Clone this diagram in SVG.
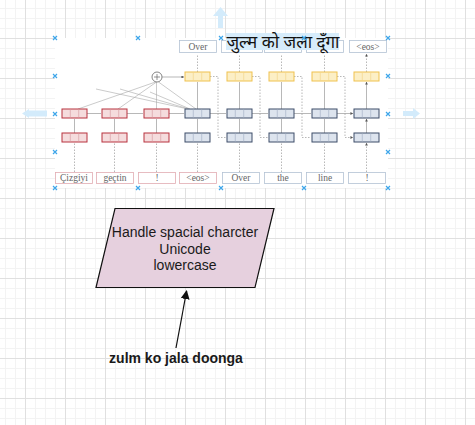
<svg xmlns="http://www.w3.org/2000/svg" xmlns:xlink="http://www.w3.org/1999/xlink" width="475" height="425" viewBox="0 0 475 425">
<style>
.minor{stroke:#f3f3f3;stroke-width:1}
.major{stroke:#e0e0e0;stroke-width:1}
.xm{stroke:#3ea6ea;stroke-width:1.2}
.hov{fill:#d3ebfb}
.ib{fill:#fff;stroke-width:0.8}
.enc{stroke:#e2acb2}
.dec{stroke:#b3c2d4}
.lbl{font-family:"Liberation Serif",serif;font-size:9.5px;fill:#666;text-anchor:middle}
.ln{stroke:#9a9a9a;stroke-width:0.7;fill:none}
.dot{stroke:#9a9a9a;stroke-width:0.7;fill:none;stroke-dasharray:1.5 1.5}
.arr{marker-end:url(#ah)}
.att{stroke:#a8a8a8;stroke-width:0.6;fill:none}
.cap{font-family:"Liberation Sans",Arial,sans-serif;font-size:14px;fill:#1a1a1a;text-anchor:middle}
</style>
<defs>
<pattern id="grid" x="25" y="38" width="40" height="40" patternUnits="userSpaceOnUse">
<path class="minor" d="M10.5 0V40M20.5 0V40M30.5 0V40M0 10.5H40M0 20.5H40M0 30.5H40"/>
<path class="major" d="M0.5 0V40M0 0.5H40"/>
</pattern>
<marker id="ah" viewBox="0 0 6 6" refX="5.5" refY="3" markerWidth="4" markerHeight="4" orient="auto">
<path d="M0 0L6 3L0 6z" fill="#555"/>
</marker>
<marker id="bk" viewBox="0 0 10 10" refX="9" refY="5" markerWidth="9" markerHeight="9" markerUnits="userSpaceOnUse" orient="auto">
<path d="M0 0L10 5L0 10z" fill="#111"/>
</marker>
<g id="cR"><rect x="0" y="0" width="25" height="9" fill="#f5dcdd" stroke="#b8323e" stroke-width="1"/><path d="M8.3 0.5V8.5M16.7 0.5V8.5" stroke="#d9a0a6" stroke-width="0.7"/></g>
<g id="cB"><rect x="0" y="0" width="25" height="9" fill="#dde4ee" stroke="#3d4c68" stroke-width="1"/><path d="M8.3 0.5V8.5M16.7 0.5V8.5" stroke="#a9b5c8" stroke-width="0.7"/></g>
<g id="cY"><rect x="0" y="0" width="25" height="9" fill="#fcefc6" stroke="#f0c24e" stroke-width="1"/><path d="M8.3 0.5V8.5M16.7 0.5V8.5" stroke="#f2d58c" stroke-width="0.7"/></g>
</defs>
<rect width="475" height="425" fill="#ffffff"/>
<rect width="475" height="425" fill="url(#grid)"/>
<g id="hover-arrows">
<path class="hov" d="M218 16H213L220.5 7L228 16H223V28H218Z"/>
<path class="hov" d="M29 109V110.5H47V116.5H29V118L22 113.5Z"/>
<path class="hov" d="M403 111H413V108L420 113.5L413 119V116H403Z"/>
</g>
<g id="image">
<rect x="55" y="38" width="333" height="150" fill="#ffffff"/>
</g>
<g id="connectors">
<path class="dot arr" d="M74.5 172V143M114.5 172V143M156.5 172V143M197.5 172V143M239.5 172V143M281.5 172V143M324.5 172V143M366.5 172V143"/>
<path class="ln arr" d="M74.5 133V119M114.5 133V119M156.5 133V119M197.5 133V119M239.5 133V119M281.5 133V119M324.5 133V119M366.5 133V119"/>
<path class="ln arr" d="M87 113.5H101M127 113.5H143M169 113.5H184M210 113.5H226M252 113.5H268M294 113.5H311M337 113.5H353"/>
<path class="dot arr" d="M210 76.5H218V137.5H226M252 76.5H260V137.5H268M294 76.5H302V137.5H311M337 76.5H345V137.5H353"/>
<path class="ln arr" d="M197.5 109V82M239.5 109V82M281.5 109V82M324.5 109V82M366.5 109V82"/>
<path class="dot arr" d="M197.5 72V54M239.5 72V54M281.5 72V54M324.5 72V54M366.5 72V54"/>
<path class="att" d="M78 109L155.5 82M118 109L156.5 82M156.5 109V82M196 109L158.5 82M188 109L96 89M189 109L120 89M190 109L150 92"/>
<path class="ln arr" d="M162 77H184"/>
<path d="M176 348L186.6 291" stroke="#111" stroke-width="1.2" fill="none" marker-end="url(#bk)"/>
</g>
<g id="attn-sum">
<circle cx="157" cy="77" r="5" fill="#fff" stroke="#666" stroke-width="0.8"/>
<path d="M154 77H160M157 74V80" stroke="#666" stroke-width="0.7"/>
</g>
<g id="enc-bottom">
<use href="#cR" x="62" y="133"/><use href="#cR" x="102" y="133"/><use href="#cR" x="144" y="133"/>
</g>
<g id="enc-top">
<use href="#cR" x="62" y="109"/><use href="#cR" x="102" y="109"/><use href="#cR" x="144" y="109"/>
</g>
<g id="dec-bottom">
<use href="#cB" x="185" y="133"/><use href="#cB" x="227" y="133"/><use href="#cB" x="269" y="133"/><use href="#cB" x="312" y="133"/><use href="#cB" x="354" y="133"/>
</g>
<g id="dec-top">
<use href="#cB" x="185" y="109"/><use href="#cB" x="227" y="109"/><use href="#cB" x="269" y="109"/><use href="#cB" x="312" y="109"/><use href="#cB" x="354" y="109"/>
</g>
<g id="dec-out">
<use href="#cY" x="185" y="72"/><use href="#cY" x="227" y="72"/><use href="#cY" x="269" y="72"/><use href="#cY" x="312" y="72"/><use href="#cY" x="354" y="72"/>
</g>
<g id="inputs">
<rect class="ib enc" x="55.5" y="172.5" width="37" height="11"/><text class="lbl" x="74" y="181">Çizgiyi</text>
<rect class="ib enc" x="96.5" y="172.5" width="37" height="11"/><text class="lbl" x="115" y="181">geçtin</text>
<rect class="ib enc" x="138.5" y="172.5" width="37" height="11"/><text class="lbl" x="157" y="181">!</text>
<rect class="ib enc" x="179.5" y="172.5" width="37" height="11"/><text class="lbl" x="198" y="181">&lt;eos&gt;</text>
<rect class="ib dec" x="222.5" y="172.5" width="37" height="11"/><text class="lbl" x="241" y="181">Over</text>
<rect class="ib dec" x="264.5" y="172.5" width="37" height="11"/><text class="lbl" x="283" y="181">the</text>
<rect class="ib dec" x="306.5" y="172.5" width="37" height="11"/><text class="lbl" x="325" y="181">line</text>
<rect class="ib dec" x="348.5" y="172.5" width="37" height="11"/><text class="lbl" x="367" y="181">!</text>
</g>
<g id="outputs">
<rect class="ib dec" x="179.5" y="40.5" width="37" height="12"/><text class="lbl" x="198" y="50">Over</text>
<rect class="ib dec" x="221.5" y="40.5" width="41" height="12"/>
<rect class="ib dec" x="264.5" y="40.5" width="37" height="12"/>
<rect class="ib dec" x="306.5" y="40.5" width="37" height="12"/>
<rect class="ib dec" x="349.5" y="40.5" width="37" height="12"/><text class="lbl" x="368" y="50">&lt;eos&gt;</text>
</g>
<g id="hindi-title">
<rect x="226" y="33" width="113" height="17" fill="#d6ecfb"/>
<text x="283" y="48" font-family="'Noto Sans','DejaVu Sans',sans-serif" font-size="17" fill="#111" text-anchor="middle">जुल्म को जला दूँगा</text>
</g>
<g id="handles">
<path class="xm" d="M53 36l4 4m0-4l-4 4M136 36l4 4m0-4l-4 4M219 36l4 4m0-4l-4 4M302 36l4 4m0-4l-4 4M386 36l4 4m0-4l-4 4M53 74l4 4m0-4l-4 4M386 74l4 4m0-4l-4 4M53 112l4 4m0-4l-4 4M386 112l4 4m0-4l-4 4M53 150l4 4m0-4l-4 4M386 150l4 4m0-4l-4 4M53 186l4 4m0-4l-4 4M136 186l4 4m0-4l-4 4M219 186l4 4m0-4l-4 4M302 186l4 4m0-4l-4 4M386 186l4 4m0-4l-4 4"/>
</g>
<g id="preprocess">
<path d="M115 208.5H274L255 287.5H96Z" fill="#e6d0de" stroke="#111" stroke-width="1.2"/>
<text class="cap" x="185" y="237">Handle spacial charcter</text>
<text class="cap" x="185" y="254">Unicode</text>
<text class="cap" x="185" y="270">lowercase</text>
</g>
<g id="input-text">
<text class="cap" x="176" y="363" font-weight="bold">zulm ko jala doonga</text>
</g>
</svg>
